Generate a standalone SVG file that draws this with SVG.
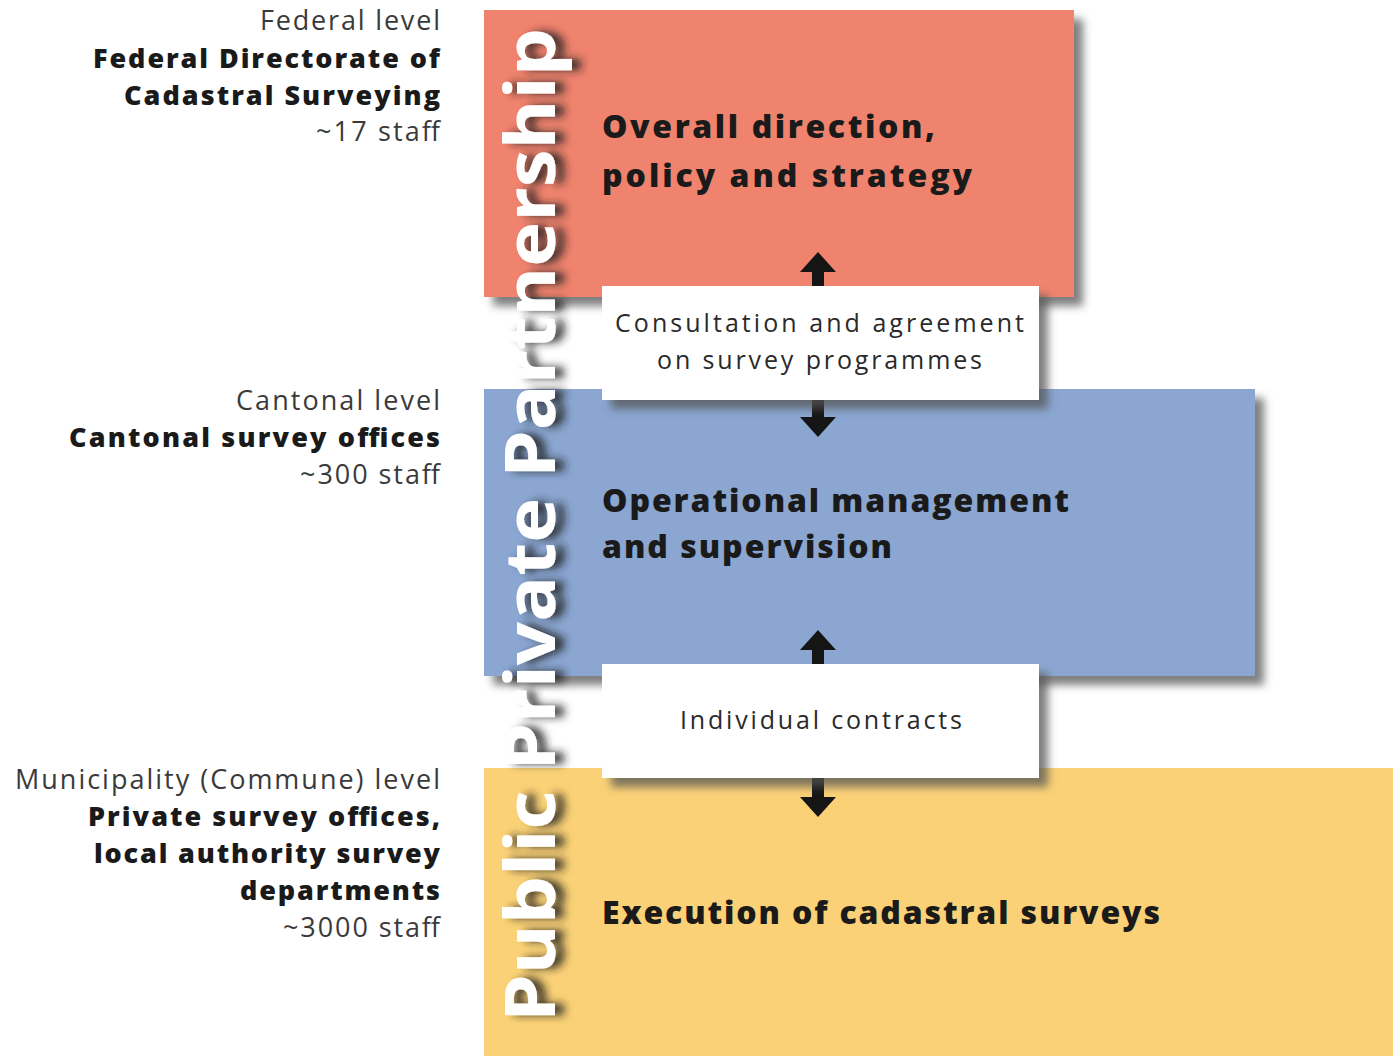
<svg xmlns="http://www.w3.org/2000/svg" width="1393" height="1056" viewBox="0 0 1393 1056">
<defs>
<filter id="sh" x="-10%" y="-10%" width="130%" height="130%">
<feDropShadow dx="9" dy="9" stdDeviation="4" flood-color="#555" flood-opacity="0.75"/>
</filter>
<filter id="tsh" x="-10%" y="-20%" width="130%" height="160%">
<feDropShadow dx="0" dy="9" stdDeviation="4" flood-color="#222" flood-opacity="0.85"/>
</filter>
</defs>
<style>
.lt{font-family:"Open Sans","Noto Sans",sans-serif;font-size:27px;text-anchor:end;fill:#3a3a3a}
.lb{font-family:"Open Sans","Noto Sans",sans-serif;font-size:27px;font-weight:800;text-anchor:end;fill:#1a1a1a}
.bt{font-family:"Open Sans","Noto Sans",sans-serif;font-size:32px;font-weight:800;fill:#1a1a1a}
.wt{font-family:"Open Sans","Noto Sans",sans-serif;font-size:25px;text-anchor:middle;fill:#2a2a2a}
.vt{font-family:"Open Sans","Noto Sans",sans-serif;font-size:70px;font-weight:bold;fill:#fff}
</style>
<rect width="1393" height="1056" fill="#fff"/>
<g id="federal-box">
<rect x="484" y="10" width="590" height="287" fill="#EF836E" filter="url(#sh)"/>
<text class="bt" x="602" y="138" textLength="333" lengthAdjust="spacing">Overall direction,</text>
<text class="bt" x="602" y="187" textLength="370" lengthAdjust="spacing">policy and strategy</text>
</g>
<g id="cantonal-box">
<rect x="484" y="389" width="771" height="287" fill="#8AA6D1" filter="url(#sh)"/>
<text class="bt" x="602" y="512" textLength="467" lengthAdjust="spacing">Operational management</text>
<text class="bt" x="602" y="558" textLength="290" lengthAdjust="spacing">and supervision</text>
</g>
<g id="municipal-box">
<rect x="484" y="768" width="920" height="300" fill="#FAD176" filter="url(#sh)"/>
<text class="bt" x="602" y="924" textLength="558" lengthAdjust="spacing">Execution of cadastral surveys</text>
</g>
<g id="ppp-label">
<text class="vt" transform="translate(555,1022) rotate(-90)" x="0" y="0" textLength="994" lengthAdjust="spacingAndGlyphs" filter="url(#tsh)">Public Private Partnership</text>
</g>
<g id="connectors" fill="#151515">
<polygon points="818,252 836,272 824,272 824,290 812,290 812,272 800,272"/>
<polygon points="818,437 836,417 824,417 824,398 812,398 812,417 800,417"/>
<polygon points="818,630 836,650 824,650 824,668 812,668 812,650 800,650"/>
<polygon points="818,817 836,797 824,797 824,776 812,776 812,797 800,797"/>
</g>
<g id="consultation-box">
<rect x="602" y="286" width="437" height="114" fill="#fff" filter="url(#sh)"/>
<text class="wt" x="819.5" y="332" textLength="409" lengthAdjust="spacing">Consultation and agreement</text>
<text class="wt" x="819.5" y="369" textLength="325" lengthAdjust="spacing">on survey programmes</text>
</g>
<g id="contracts-box">
<rect x="602" y="664" width="437" height="114" fill="#fff" filter="url(#sh)"/>
<text class="wt" x="821" y="729" textLength="282" lengthAdjust="spacing">Individual contracts</text>
</g>
<g id="federal-label">
<text class="lt" x="440" y="30" textLength="180" lengthAdjust="spacing">Federal level</text>
<text class="lb" x="440" y="68" textLength="347" lengthAdjust="spacing">Federal Directorate of</text>
<text class="lb" x="440" y="105" textLength="316" lengthAdjust="spacing">Cadastral Surveying</text>
<text class="lt" x="440" y="141" textLength="124" lengthAdjust="spacing">~17 staff</text>
</g>
<g id="cantonal-label">
<text class="lt" x="440" y="410" textLength="204" lengthAdjust="spacing">Cantonal level</text>
<text class="lb" x="440" y="447" textLength="371" lengthAdjust="spacing">Cantonal survey offices</text>
<text class="lt" x="440" y="484" textLength="140" lengthAdjust="spacing">~300 staff</text>
</g>
<g id="municipal-label">
<text class="lt" x="440" y="789" textLength="425" lengthAdjust="spacing">Municipality (Commune) level</text>
<text class="lb" x="440" y="826" textLength="352" lengthAdjust="spacing">Private survey offices,</text>
<text class="lb" x="440" y="863" textLength="346" lengthAdjust="spacing">local authority survey</text>
<text class="lb" x="440" y="900" textLength="200" lengthAdjust="spacing">departments</text>
<text class="lt" x="440" y="937" textLength="157" lengthAdjust="spacing">~3000 staff</text>
</g>
</svg>
